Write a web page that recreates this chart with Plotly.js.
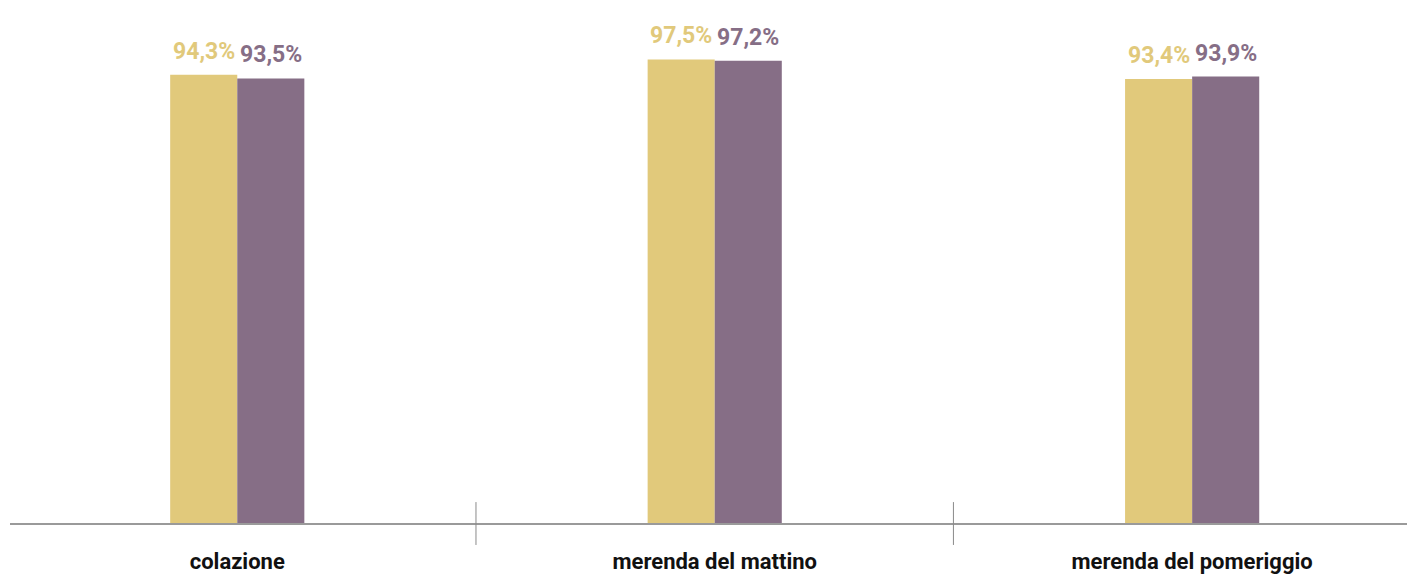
<!DOCTYPE html>
<html>
<head>
<meta charset="utf-8">
<script src="https://cdn.plot.ly/plotly-3.0.1.min.js"></script>
<style>html,body{margin:0;padding:0;background:#fff;}#chart{width:1407px;height:574px;}</style>
</head>
<body>
<div id="chart"></div>
<script>
const categories = ["colazione", "merenda del mattino", "merenda del pomeriggio"];
const seriesA = [94.3, 97.5, 93.4];
const seriesB = [93.5, 97.2, 93.9];
const colorA = "#E1C97B";
const colorB = "#866E86";

const traces = [
  {type: "bar", x: categories, y: seriesA, marker: {color: colorA}, hoverinfo: "none"},
  {type: "bar", x: categories, y: seriesB, marker: {color: colorB}, hoverinfo: "none"}
];

function fmt(v) { return v.toFixed(1).replace(".", ",") + "%"; }

const annotations = [];
[[seriesA, colorA, -33.5], [seriesB, colorB, 33.5]].forEach(([vals, col, dx]) => {
  vals.forEach((v, i) => {
    annotations.push({
      x: categories[i], y: v, xref: "x", yref: "y",
      text: fmt(v), showarrow: false, xanchor: "center", yanchor: "bottom",
      xshift: dx, yshift: 8,
      font: {family: "Roboto", size: 23, color: col, weight: 700}
    });
  });
});

const shapes = [0.5, 1.5].map(b => ({
  type: "line", xref: "x", yref: "paper", x0: b, x1: b, y0: -0.042, y1: 0.04,
  line: {color: "#8a8a8a", width: 1}
}));

const layout = {
  width: 1407, height: 574,
  margin: {l: 10, r: 0, t: 0, b: 51},
  paper_bgcolor: "#fff", plot_bgcolor: "#fff",
  barmode: "group", bargap: 0.719, bargroupgap: 0,
  showlegend: false,
  font: {family: "Roboto", color: "#111"},
  xaxis: {
    type: "category", range: [-0.476, 2.45],
    showline: true, linecolor: "#9a9a9a", linewidth: 1.5,
    showgrid: false, zeroline: false,
    ticks: "outside", ticklen: 18, tickcolor: "rgba(0,0,0,0)",
    tickfont: {family: "Roboto", size: 22, color: "#111", weight: 700}
  },
  yaxis: {range: [0, 110], visible: false, showgrid: false, zeroline: false},
  shapes: shapes,
  annotations: annotations
};

Plotly.newPlot("chart", traces, layout, {displayModeBar: false, staticPlot: true});
</script>
</body>
</html>
